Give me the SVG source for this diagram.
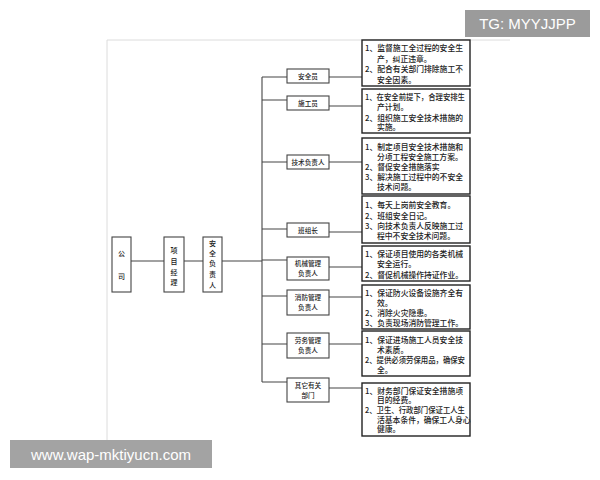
<svg xmlns="http://www.w3.org/2000/svg" width="600" height="480" viewBox="0 0 600 480">
<style>
.bx{fill:#fff;stroke:#444;stroke-width:1.1}
.rb{fill:#fff;stroke:#222;stroke-width:1.4}
.ln{stroke:#444;stroke-width:1.1;fill:none}
.t{font-family:"Noto Sans CJK SC","Noto Sans",sans-serif;fill:#222}
.r{font-size:7.8px;font-weight:500}
.m{font-size:6.6px;text-anchor:middle;font-weight:500}
.v{font-size:7px;text-anchor:middle;font-weight:500}
.wm{font-family:"Liberation Sans","DejaVu Sans",sans-serif;fill:#fff}
</style>
<rect width="600" height="480" fill="#fff"/>
<path d="M107 440V40H510" stroke="#dcdcdc" stroke-width="1" fill="none"/>

<g id="connectors">
<path class="ln" d="M131 261H164M184 261H203M222 261H262"/>
<path class="ln" d="M262 77V382"/>
<path class="ln" d="M262 77H287M262 100H287M262 162H287M262 229H287M262 260H287M262 296H287M262 344H287M262 382H287"/>
<path class="ln" d="M329 77H362M329 106H362M329 162H362M329 232H362M329 267H362M329 297H362M329 344H362M329 388H362"/>
</g>

<g id="gongsi"><rect class="bx" x="112" y="237" width="19" height="55"/>
<text class="t v" x="121.5" y="256">公</text><text class="t v" x="121.5" y="279">司</text></g>
<g id="xiangmujingli"><rect class="bx" x="164" y="237" width="20" height="55"/>
<text class="t v" x="174" y="253">项</text><text class="t v" x="174" y="264">目</text><text class="t v" x="174" y="275">经</text><text class="t v" x="174" y="285">理</text></g>
<g id="anquanfuzeren"><rect class="bx" x="203" y="237" width="19" height="55"/>
<text class="t v" x="212.5" y="246">安</text><text class="t v" x="212.5" y="256">全</text><text class="t v" x="212.5" y="266">负</text><text class="t v" x="212.5" y="277">责</text><text class="t v" x="212.5" y="288">人</text></g>

<g id="m1"><rect class="bx" x="287" y="69" width="42" height="14"/><text class="t m" x="308" y="78.5">安全员</text></g>
<g id="m2"><rect class="bx" x="287" y="96" width="42" height="14"/><text class="t m" x="308" y="105.5">施工员</text></g>
<g id="m3"><rect class="bx" x="287" y="155" width="42" height="14"/><text class="t m" x="308" y="164.5">技术负责人</text></g>
<g id="m4"><rect class="bx" x="287" y="223" width="42" height="14"/><text class="t m" x="308" y="232.5">班组长</text></g>
<g id="m5"><rect class="bx" x="287" y="257" width="42" height="23"/><text class="t m" x="308" y="266">机械管理</text><text class="t m" x="308" y="276">负责人</text></g>
<g id="m6"><rect class="bx" x="287" y="290" width="42" height="25"/><text class="t m" x="308" y="300">消防管理</text><text class="t m" x="308" y="310">负责人</text></g>
<g id="m7"><rect class="bx" x="287" y="333" width="42" height="25"/><text class="t m" x="308" y="343">劳务管理</text><text class="t m" x="308" y="353">负责人</text></g>
<g id="m8"><rect class="bx" x="287" y="378" width="42" height="24"/><text class="t m" x="308" y="388">其它有关</text><text class="t m" x="308" y="398">部门</text></g>

<g id="r1"><rect class="rb" x="362" y="40" width="108" height="46"/>
<text class="t r" x="365" y="51">1、监督施工全过程的安全生</text>
<text class="t r" x="377" y="61.5">产，纠正违章。</text>
<text class="t r" x="365" y="72">2、配合有关部门排除施工不</text>
<text class="t r" x="377" y="82.5">安全因素。</text></g>

<g id="r2"><rect class="rb" x="362" y="89" width="108" height="44"/>
<text class="t r" x="365" y="100" textLength="100" lengthAdjust="spacingAndGlyphs">1、在安全前提下，合理安排生</text>
<text class="t r" x="377" y="110">产计划。</text>
<text class="t r" x="365" y="120.5">2、组织施工安全技术措施的</text>
<text class="t r" x="377" y="130">实施。</text></g>

<g id="r3"><rect class="rb" x="362" y="138" width="108" height="56"/>
<text class="t r" x="365" y="150">1、制定项目安全技术措施和</text>
<text class="t r" x="377" y="160">分项工程安全施工方案。</text>
<text class="t r" x="365" y="170">2、督促安全措施落实</text>
<text class="t r" x="365" y="180">3、解决施工过程中的不安全</text>
<text class="t r" x="377" y="190">技术问题。</text></g>

<g id="r4"><rect class="rb" x="362" y="196" width="108" height="47"/>
<text class="t r" x="365" y="208">1、每天上岗前安全教育。</text>
<text class="t r" x="365" y="218.5">2、班组安全日记。</text>
<text class="t r" x="365" y="229">3、向技术负责人反映施工过</text>
<text class="t r" x="377" y="239">程中不安全技术问题。</text></g>

<g id="r5"><rect class="rb" x="362" y="246" width="108" height="35"/>
<text class="t r" x="365" y="257">1、保证项目使用的各类机械</text>
<text class="t r" x="377" y="267">安全运行。</text>
<text class="t r" x="365" y="277.5">2、督促机械操作持证作业。</text></g>

<g id="r6"><rect class="rb" x="362" y="285" width="108" height="44"/>
<text class="t r" x="365" y="296">1、保证防火设备设施齐全有</text>
<text class="t r" x="377" y="306">效。</text>
<text class="t r" x="365" y="316">2、消除火灾隐患。</text>
<text class="t r" x="365" y="326">3、负责现场消防管理工作。</text></g>

<g id="r7"><rect class="rb" x="362" y="331" width="108" height="45"/>
<text class="t r" x="365" y="343">1、保证进场施工人员安全技</text>
<text class="t r" x="377" y="353">术素质。</text>
<text class="t r" x="365" y="363" textLength="100" lengthAdjust="spacingAndGlyphs">2、提供必须劳保用品，确保安</text>
<text class="t r" x="377" y="373">全。</text></g>

<g id="r8"><rect class="rb" x="362" y="383" width="108" height="53"/>
<text class="t r" x="365" y="393.5">1、财务部门保证安全措施项</text>
<text class="t r" x="377" y="403">目的经费。</text>
<text class="t r" x="365" y="413" textLength="100" lengthAdjust="spacingAndGlyphs">2、卫生、行政部门保证工人生</text>
<text class="t r" x="377" y="422.5">活基本条件，确保工人身心</text>
<text class="t r" x="377" y="432">健康。</text></g>

<g id="wm1"><rect x="465" y="10" width="125" height="27" fill="#9b9b9b"/>
<text class="wm" x="527.5" y="29" font-size="15" text-anchor="middle">TG: MYYJJPP</text></g>
<g id="wm2"><rect x="10" y="440" width="202" height="28" fill="#a3a3a3"/>
<text class="wm" x="111" y="459.5" font-size="15" text-anchor="middle">www.wap-mktiyucn.com</text></g>
</svg>
